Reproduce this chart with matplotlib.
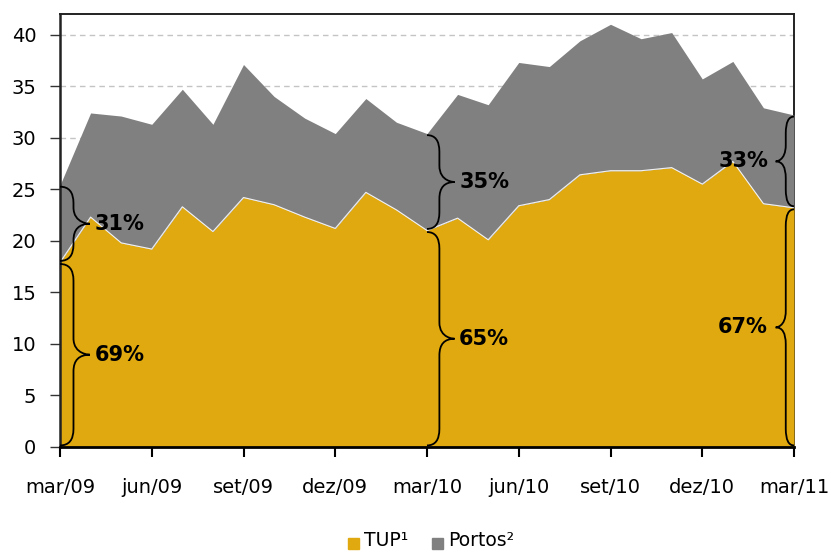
import matplotlib

matplotlib.use("Agg")
import matplotlib.pyplot as plt
import numpy as np
from matplotlib.patches import PathPatch, Rectangle
from matplotlib.path import Path

plt.rcParams["font.family"] = ["DejaVu Sans"]

# monthly values, mar/09 .. mar/11
months = ["mar/09", "abr/09", "mai/09", "jun/09", "jul/09", "ago/09", "set/09",
          "out/09", "nov/09", "dez/09", "jan/10", "fev/10", "mar/10", "abr/10",
          "mai/10", "jun/10", "jul/10", "ago/10", "set/10", "out/10", "nov/10",
          "dez/10", "jan/11", "fev/11", "mar/11"]
tup = [17.9, 22.3, 19.8, 19.2, 23.3, 20.9, 24.2, 23.5, 22.3, 21.2, 24.7, 23.0,
       21.0, 22.2, 20.1, 23.4, 24.0, 26.4, 26.8, 26.8, 27.1, 25.5, 27.7, 23.6, 23.2]
total = [25.4, 32.4, 32.1, 31.3, 34.7, 31.3, 37.1, 34.0, 31.9, 30.4, 33.8, 31.5,
         30.4, 34.2, 33.2, 37.3, 36.9, 39.4, 41.0, 39.6, 40.2, 35.7, 37.4, 32.9, 32.2]

tick_labels = ["mar/09", "jun/09", "set/09", "dez/09", "mar/10",
               "jun/10", "set/10", "dez/10", "mar/11"]
tick_pos = [0, 3, 6, 9, 12, 15, 18, 21, 24]

# brace annotations: month index and label (TUP share, then Portos share)
brace_idx = [0, 0, 12, 12, 24, 24]
brace_labels = ["69%", "31%", "65%", "35%", "67%", "33%"]

GOLD = "#E0A90F"
GREY = "#808080"


def draw_brace(ax, x, y0, y1, width, label, flip=False):
    # curly brace from y0 to y1 starting at x, tip pointing right (or left when flip)
    d = -width if flip else width
    h = x + d * 0.45
    tip = x + d
    ym = (y0 + y1) / 2.0
    r = min(1.6, (y1 - y0) / 4.0)
    verts = [
        (x, y1), (h, y1), (h, y1 - r),
        (h, ym + r),
        (h, ym), (tip, ym), (tip, ym),
        (h, ym), (h, ym - r),
        (h, y0 + r),
        (h, y0), (x, y0),
    ]
    codes = [Path.MOVETO, Path.CURVE3, Path.CURVE3,
             Path.LINETO,
             Path.CURVE4, Path.CURVE4, Path.CURVE4,
             Path.CURVE3, Path.CURVE3,
             Path.LINETO,
             Path.CURVE3, Path.CURVE3]
    ax.add_patch(PathPatch(Path(verts, codes), fill=False, lw=1.3,
                           edgecolor="black", zorder=6, clip_on=False))
    if flip:
        ax.text(tip - 0.25, ym, label, ha="right", va="center", fontsize=15,
                fontweight="bold", zorder=7)
    else:
        ax.text(tip + 0.15, ym, label, ha="left", va="center", fontsize=15,
                fontweight="bold", zorder=7)


fig = plt.figure(figsize=(8.31, 5.53), dpi=100)
ax = fig.add_axes([0.0722, 0.1917, 0.8833, 0.783])

x = np.arange(len(months))
ax.fill_between(x, 0, tup, color=GOLD, lw=0, zorder=3)
ax.fill_between(x, tup, total, color=GREY, lw=0, zorder=3)
ax.plot(x, tup, color="#f2f2f2", lw=0.8, zorder=4)

ax.set_xlim(0, 24)
ax.set_ylim(0, 42)
ax.set_yticks(range(0, 41, 5))
ax.set_xticks(tick_pos)
ax.set_xticklabels(tick_labels)
ax.tick_params(axis="x", direction="out", length=7, width=1.5, pad=15,
               labelsize=14, colors="black")
ax.tick_params(axis="y", direction="out", length=7, width=1.0, pad=10,
               labelsize=14, color="#333333")
ax.yaxis.grid(True, color="#c4c4c4", linestyle=(0, (4, 3)), lw=1.0)
ax.set_axisbelow(True)

for name, sp in ax.spines.items():
    sp.set_color("#222222")
    sp.set_linewidth(1.4)
ax.spines["bottom"].set_linewidth(2.0)
ax.spines["bottom"].set_color("black")
ax.spines["bottom"].set_zorder(5)
ax.spines["left"].set_zorder(5)
ax.spines["left"].set_linewidth(1.8)
ax.spines["right"].set_zorder(1)

# braces: TUP share and Portos share at mar/09, mar/10, mar/11
for i, idx in enumerate(brace_idx):
    flip = idx == 24
    w = 0.6 if flip else (0.9 if idx == 12 else 0.98)
    if i % 2 == 0:
        lo, hi = 0.0, tup[idx]
    else:
        lo, hi = tup[idx], total[idx]
    draw_brace(ax, idx, lo + 0.15, hi - 0.15, w, brace_labels[i], flip=flip)

# legend at the bottom
fig.patches.append(Rectangle((348 / 831, 1 - 549 / 553), 11 / 831, 11 / 553,
                             transform=fig.transFigure, color=GOLD))
fig.text(364 / 831, 1 - 541 / 553, "TUP\u00b9", fontsize=13.5, va="center")
fig.patches.append(Rectangle((432 / 831, 1 - 549 / 553), 11 / 831, 11 / 553,
                             transform=fig.transFigure, color=GREY))
fig.text(448 / 831, 1 - 541 / 553, "Portos\u00b2", fontsize=13.5, va="center")

fig.savefig("out.png", dpi=100)
